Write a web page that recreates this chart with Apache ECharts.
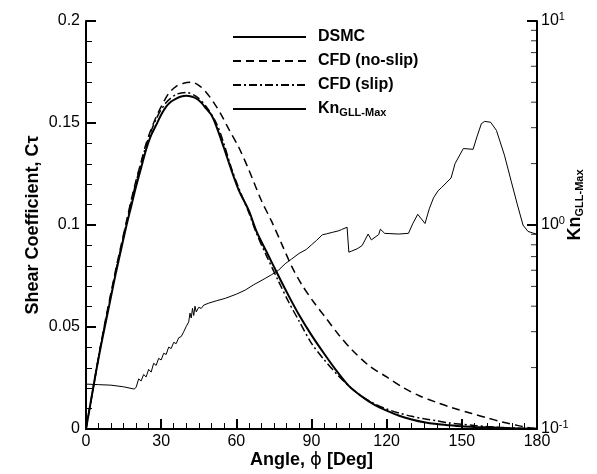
<!DOCTYPE html>
<html><head><meta charset="utf-8">
<script src="https://cdn.jsdelivr.net/npm/echarts@6.0.0/dist/echarts.min.js"></script>
<style>html,body{margin:0;padding:0;background:#fff}#c{width:597px;height:474px}</style>
</head><body><div id="c"></div>
<script>
// ---- data ----
const xTicks = [0, 30, 60, 90, 120, 150, 180];
const yTicksLeft = [0, 0.05, 0.1, 0.15, 0.2];
const yTicksRight = [0.1, 1, 10];
const rightMinorTicks = [0.2,0.3,0.4,0.5,0.6,0.7,0.8,0.9,2,3,4,5,6,7,8,9];

const dsmcAngle = [0,2,4,6,8,10,12,14,16,18,20,22,24,26,28,30,32,34,36,38,40,42,44,46,48,50,52,55,58,61,65,68,72,77,81,85,90,95,100,105,110,115,120,125,130,135,140,145,150,155,160,165,170,175,180];
const dsmcCt    = [0,0.014,0.028,0.041,0.053,0.065,0.077,0.088,0.099,0.109,0.119,0.128,0.137,0.144,0.149,0.154,0.158,0.1605,0.162,0.163,0.1633,0.163,0.162,0.160,0.157,0.154,0.1485,0.138,0.127,0.117,0.107,0.097,0.087,0.0746,0.065,0.056,0.046,0.037,0.0285,0.021,0.016,0.012,0.009,0.0065,0.0047,0.0033,0.0024,0.0018,0.0013,0.001,0.0008,0.0006,0.0004,0.0002,0];

const noslipAngle = [0,2,4,6,8,10,12,14,16,18,20,22,24,26,28,30,33,36,39,42,45,48,51,54,57,61,65,70,74,78,82,86,91,96,101,106,113,120,127,133,140,146,154,160,166,172,176,180];
const noslipCt    = [0,0.014,0.028,0.042,0.055,0.067,0.079,0.090,0.101,0.112,0.122,0.131,0.140,0.147,0.153,0.158,0.1645,0.168,0.1695,0.170,0.1685,0.165,0.160,0.154,0.147,0.138,0.127,0.112,0.102,0.091,0.080,0.071,0.062,0.054,0.046,0.039,0.031,0.0255,0.020,0.0163,0.013,0.0105,0.0076,0.0055,0.0035,0.0018,0.0008,0.0003];

const slipAngle = [0,2,4,6,8,10,12,14,16,18,20,24,28,32,36,40,44,48,52,55,58,61,65,68,72,77,81,85,90,95,100,105,110,115,120,125,130,135,140,145,150,155,160,165,170,175,180];
const slipCt    = [0,0.014,0.028,0.042,0.054,0.066,0.078,0.089,0.100,0.111,0.121,0.139,0.152,0.160,0.164,0.165,0.163,0.158,0.150,0.140,0.128,0.118,0.106,0.096,0.085,0.072,0.062,0.053,0.042,0.034,0.027,0.021,0.016,0.0125,0.0098,0.0078,0.0062,0.005,0.004,0.003,0.0023,0.0017,0.0012,0.0008,0.0005,0.0002,0];

const knAngle = [0,5,10,15,19.2,20,21,22,23,24,25,26,27,28,29,30,31,32,33,34,35,36,37,38,39,40,41,41.5,42,42.5,43,43.5,44,45,46,47,49,52,55.6,60,63.6,67,71.5,74,76.8,79.5,82,85,88,90,92,94.3,96,98.3,100.9,102,104.2,104.9,106,108.2,110.2,112.6,113.9,116.8,117.5,119.2,124.8,128.7,130.5,132.4,135.3,137,138.7,140.5,142,145.7,147.3,150.6,154.5,156,157.8,159.1,161.5,163.8,167,169.7,172,174.4,176.4,180];
const knVal   = [0.166,0.165,0.164,0.161,0.157,0.160,0.176,0.172,0.185,0.180,0.196,0.190,0.210,0.205,0.222,0.218,0.235,0.232,0.252,0.248,0.266,0.262,0.280,0.284,0.300,0.318,0.335,0.37,0.35,0.39,0.36,0.40,0.375,0.395,0.39,0.405,0.414,0.425,0.437,0.458,0.480,0.510,0.547,0.57,0.600,0.646,0.68,0.725,0.76,0.80,0.84,0.895,0.905,0.92,0.937,0.95,0.975,0.736,0.745,0.764,0.793,0.903,0.845,0.897,0.954,0.910,0.903,0.910,1.02,1.128,1.017,1.2,1.359,1.47,1.53,1.70,2.0,2.37,2.35,2.7,3.14,3.22,3.19,2.91,2.2,1.64,1.28,1.0,0.93,0.90];

const legendNames = ['DSMC', 'CFD (no-slip)', 'CFD (slip)', 'KnGLL'];

// ---- chart ----
const FONT = '"Liberation Sans", Arial, Helvetica, sans-serif';
const zip = (a, b) => a.map((v, i) => [v, b[i]]);
const chart = echarts.init(document.getElementById('c'), null, {renderer: 'canvas'});

const axisLineStyle = {color: '#000', width: 2};
const option = {
  animation: false,
  backgroundColor: '#fff',
  grid: {left: 86, right: 60, top: 21, bottom: 40},
  legend: {
    data: legendNames,
    orient: 'vertical',
    left: 227, top: 24,
    itemWidth: 73, itemHeight: 12, itemGap: 8,
    itemStyle: {opacity: 0},
    textStyle: {
      color: '#000', fontSize: 16, fontWeight: 'bold', fontFamily: FONT,
      padding: [0, 0, 0, 7],
      rich: {
        a: {fontSize: 16, fontWeight: 'bold', fontFamily: FONT, color: '#000'},
        s: {fontSize: 11, fontWeight: 'bold', fontFamily: FONT, color: '#000', verticalAlign: 'bottom', padding: [8, 0, 0, 0]}
      }
    },
    formatter: n => n === 'KnGLL' ? '{a|Kn}{s|GLL-Max}' : '{a|' + n + '}'
  },
  xAxis: {
    type: 'value', min: xTicks[0], max: xTicks[xTicks.length - 1], interval: 30,
    axisLine: {lineStyle: axisLineStyle},
    axisTick: {inside: true, length: 10, lineStyle: {color: '#000', width: 2}},
    minorTick: {show: true, splitNumber: 6, length: 6, lineStyle: {color: '#000', width: 1}},
    splitLine: {show: false},
    axisLabel: {color: '#000', fontSize: 16, fontFamily: FONT, margin: 5},
    name: '{b|Angle, }{p|ϕ}{b| [Deg]}',
    nameLocation: 'middle', nameGap: 22, nameMoveOverlap: false,
    nameTextStyle: {
      rich: {
        b: {fontSize: 18, fontWeight: 'bold', fontFamily: FONT, color: '#000'},
        p: {fontSize: 18, fontFamily: '"DejaVu Sans", sans-serif', color: '#000'}
      }
    }
  },
  yAxis: [{
    type: 'value', min: yTicksLeft[0], max: yTicksLeft[yTicksLeft.length - 1], interval: 0.05,
    position: 'left',
    axisLine: {show: true, lineStyle: axisLineStyle},
    axisTick: {show: true, inside: true, length: 10, lineStyle: {color: '#000', width: 2}},
    minorTick: {show: true, splitNumber: 5, length: 6, lineStyle: {color: '#000', width: 1}},
    splitLine: {show: false},
    axisLabel: {color: '#000', fontSize: 16, fontFamily: FONT, margin: 6},
    name: 'Shear Coefficient, Cτ',
    nameLocation: 'middle', nameGap: 44, nameRotate: 90, nameMoveOverlap: false,
    nameTextStyle: {fontSize: 18, fontWeight: 'bold', fontFamily: FONT, color: '#000'}
  }, {
    type: 'log', logBase: 10, min: yTicksRight[0], max: yTicksRight[yTicksRight.length - 1],
    position: 'right',
    axisLine: {show: true, lineStyle: axisLineStyle},
    axisTick: {show: true, inside: true, length: 10, lineStyle: {color: '#000', width: 2}},
    minorTick: {show: false},
    splitLine: {show: false},
    axisLabel: {
      color: '#000', margin: 4,
      formatter: v => '{n|10}{e|' + Math.round(Math.log10(v)) + '}',
      rich: {
        n: {fontSize: 16, fontFamily: FONT, color: '#000'},
        e: {fontSize: 11, fontFamily: FONT, color: '#000', verticalAlign: 'top', padding: [0, 0, 8, 0]}
      }
    },
    name: '{a|Kn}{s|GLL-Max}',
    nameLocation: 'middle', nameGap: 28, nameRotate: 90, nameMoveOverlap: false,
    nameTextStyle: {
      padding: [0, 0, 0, 40],
      rich: {
        a: {fontSize: 18, fontWeight: 'bold', fontFamily: FONT, color: '#000'},
        s: {fontSize: 11, fontWeight: 'bold', fontFamily: FONT, color: '#000', padding: [9, 0, 0, 0]}
      }
    }
  }],
  series: [
    {name: 'DSMC', type: 'line', data: zip(dsmcAngle, dsmcCt), symbol: 'none', smooth: 0.3,
     lineStyle: {color: '#000', width: 2}, itemStyle: {color: '#000'}},
    {name: 'CFD (no-slip)', type: 'line', data: zip(noslipAngle, noslipCt), symbol: 'none', smooth: 0.3,
     lineStyle: {color: '#000', width: 1.5, type: [8, 5]}, itemStyle: {color: '#000'}},
    {name: 'CFD (slip)', type: 'line', data: zip(slipAngle, slipCt), symbol: 'none', smooth: 0.3,
     lineStyle: {color: '#000', width: 1.5, type: [8, 3, 2, 3]}, itemStyle: {color: '#000'}},
    {name: 'KnGLL', type: 'line', yAxisIndex: 1, data: zip(knAngle, knVal), symbol: 'none',
     lineStyle: {color: '#000', width: 1}, itemStyle: {color: '#000'}},
    {name: 'rightMinor', type: 'scatter', yAxisIndex: 1, silent: true, clip: false,
     data: rightMinorTicks.map(v => [xTicks[xTicks.length - 1], v]),
     symbol: 'rect', symbolSize: [6, 1], symbolOffset: [-3, 0],
     itemStyle: {color: '#000'}, z: 5}
  ]
};
chart.setOption(option);
</script>
</body></html>
